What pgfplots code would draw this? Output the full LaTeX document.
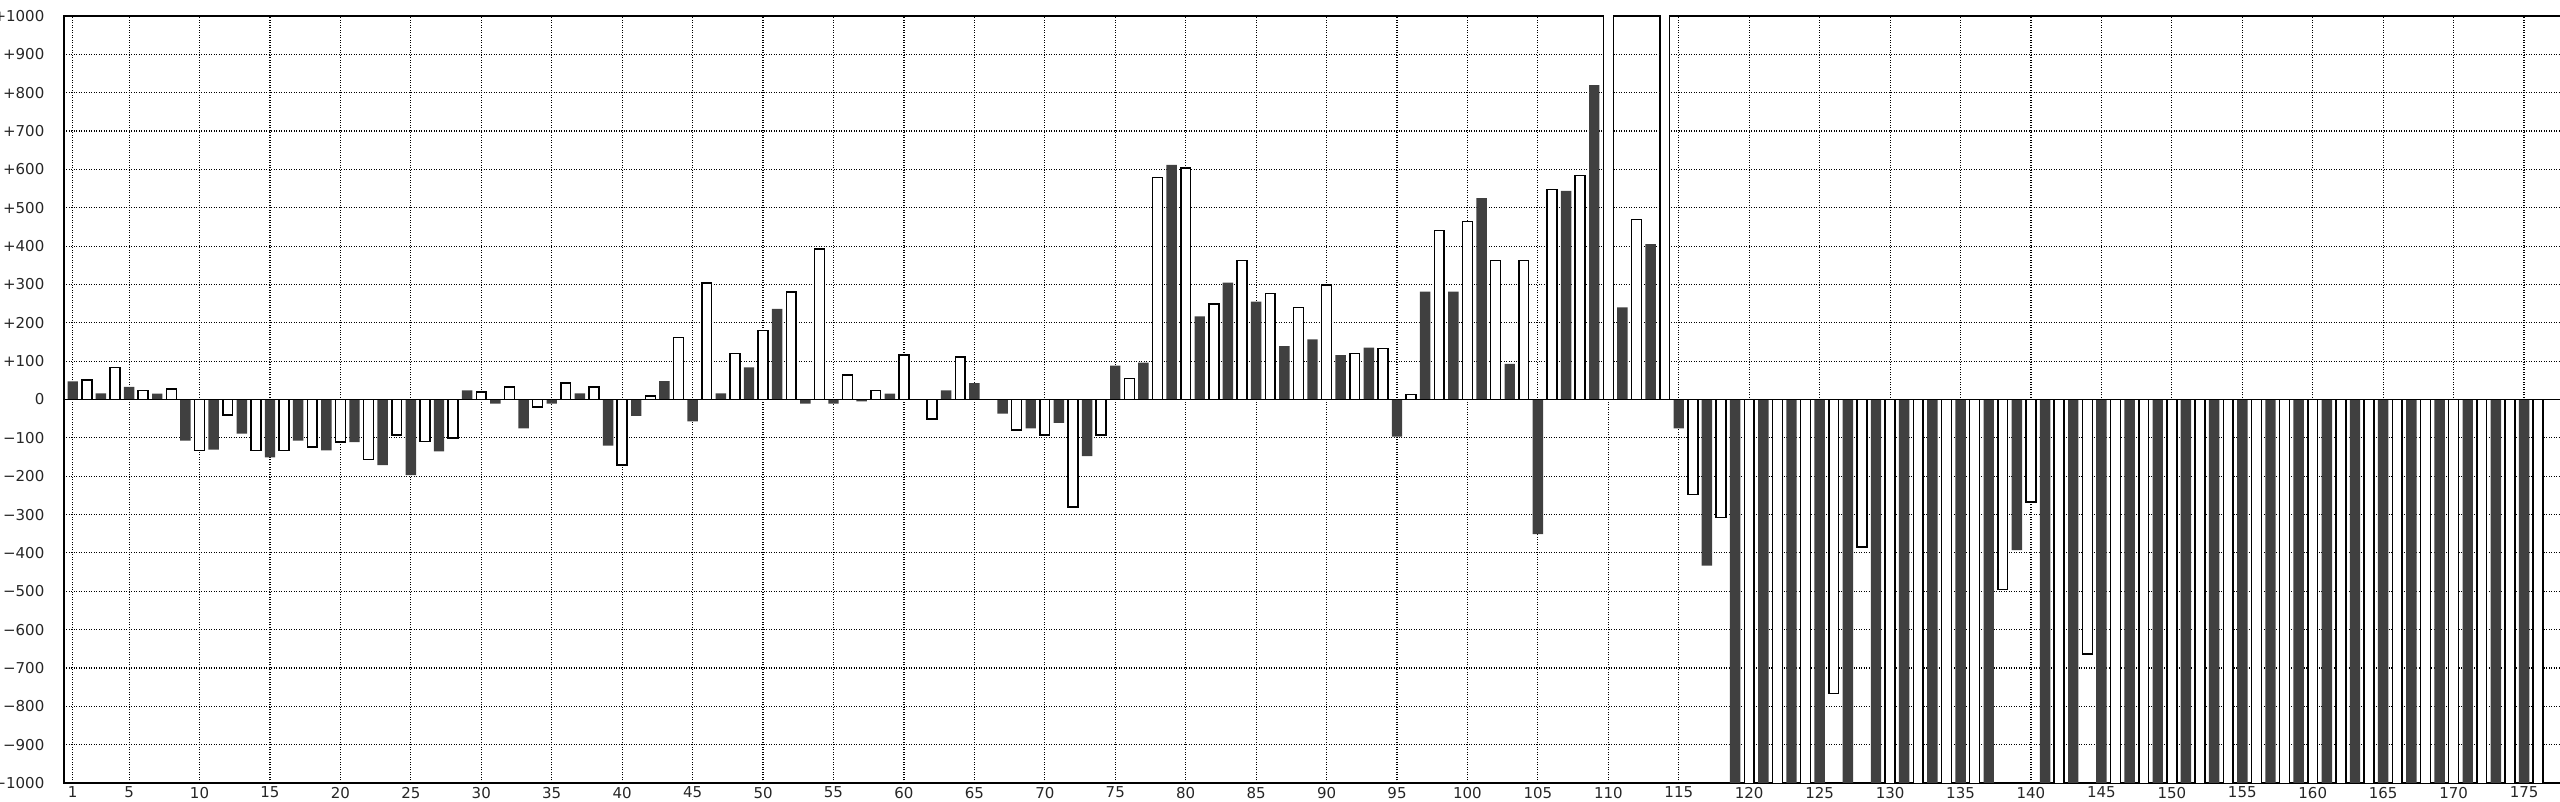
\documentclass[border=0pt]{standalone}
\usepackage{fontspec}
\setmainfont{DejaVu Sans}
\usepackage{pgfplots}
\pgfplotsset{compat=1.18}
\usepackage{pgfplotstable}
\definecolor{darkbar}{RGB}{64,64,64}

\pgfplotstableread{
x y
1 47
3 16
5 33
7 15
9 -107
11 -131
13 -89
15 -151
17 -107
19 -133
21 -111
23 -171
25 -197
27 -135
29 24
31 -11
33 -75
35 -11
37 16
39 -120
41 -43
43 48
45 -57
47 16
49 84
51 236
53 -11
55 -11
57 -5
59 15
61 0
63 24
65 43
67 -37
69 -75
71 -61
73 -148
75 88
77 96
79 612
81 217
83 305
85 255
87 139
89 157
91 116
93 135
95 -97
97 281
99 281
101 525
103 93
105 -351
107 544
109 820
111 240
113 405
115 -75
117 -433
119 -1100
121 -1100
123 -1100
125 -1100
127 -1100
129 -1100
131 -1100
133 -1100
135 -1100
137 -1100
139 -393
141 -1100
143 -1100
145 -1100
147 -1100
149 -1100
151 -1100
153 -1100
155 -1100
157 -1100
159 -1100
161 -1100
163 -1100
165 -1100
167 -1100
169 -1100
171 -1100
173 -1100
175 -1100
}\darkdata

\pgfplotstableread{
x y
2 51
4 83
6 23
8 27
10 -133
12 -40
14 -133
16 -133
18 -124
20 -111
22 -156
24 -93
26 -110
28 -101
30 19
32 32
34 -20
36 43
38 32
40 -171
42 9
44 161
46 304
48 120
50 180
52 280
54 392
56 64
58 23
60 116
62 -51
64 111
66 0
68 -80
70 -93
72 -280
74 -93
76 55
78 579
80 603
82 249
84 363
86 276
88 240
90 299
92 120
94 133
96 13
98 440
100 464
102 363
104 363
106 547
108 584
110 1100
112 469
114 1100
116 -248
118 -308
120 -1100
122 -1100
124 -1100
126 -767
128 -385
130 -1100
132 -1100
134 -1100
136 -1100
138 -496
140 -267
142 -1100
144 -663
146 -1100
148 -1100
150 -1100
152 -1100
154 -1100
156 -1100
158 -1100
160 -1100
162 -1100
164 -1100
166 -1100
168 -1100
170 -1100
172 -1100
174 -1100
176 -1100
}\whitedata

\begin{document}
\begin{tikzpicture}
\path[use as bounding box] (-19.2pt,-5.7pt) rectangle (748.8pt,234.9pt);
\clip (-19.2pt,-5.7pt) rectangle (748.8pt,234.9pt);
\begin{axis}[
  at={(0,0)}, anchor=south west,
  scale only axis,
  width=750.69pt, height=230.1pt,
  xmin=0.38, xmax=178, ymin=-1000, ymax=1000,
  enlargelimits=false,
  xtick={1,5,10,...,175},
  ytick={-1000,-900,...,1000},
  yticklabels={{−1000},{−900},{−800},{−700},{−600},{−500},{−400},{−300},{−200},{−100},{0},{+100},{+200},{+300},{+400},{+500},{+600},{+700},{+800},{+900},{+1000}},
  /pgf/number format/assume math mode=true,
  tick label style={font=\fontsize{4.5}{5}\selectfont, color=black!85},
  xticklabel style={anchor=north, inner sep=0pt, yshift=-1pt},
  yticklabel style={anchor=east, inner sep=0pt, xshift=-5.7pt},
  major tick length=0pt,
  grid=major,
  major grid style={black, line width=0.35pt, dash pattern=on 0.3pt off 0.45pt},
  axis line style={black, line width=0.55pt},
]
\addplot[ybar, bar shift=0pt, bar width=0.74, fill=darkbar, draw=none] table[x=x, y=y] {\darkdata};
\addplot[ybar, bar shift=0pt, bar width=0.70, fill=white, draw=black, line width=0.45pt] table[x=x, y=y] {\whitedata};
\addplot[black, line width=0.55pt, forget plot] coordinates {(0.38,0) (178,0)};
\end{axis}
\end{tikzpicture}
\end{document}
